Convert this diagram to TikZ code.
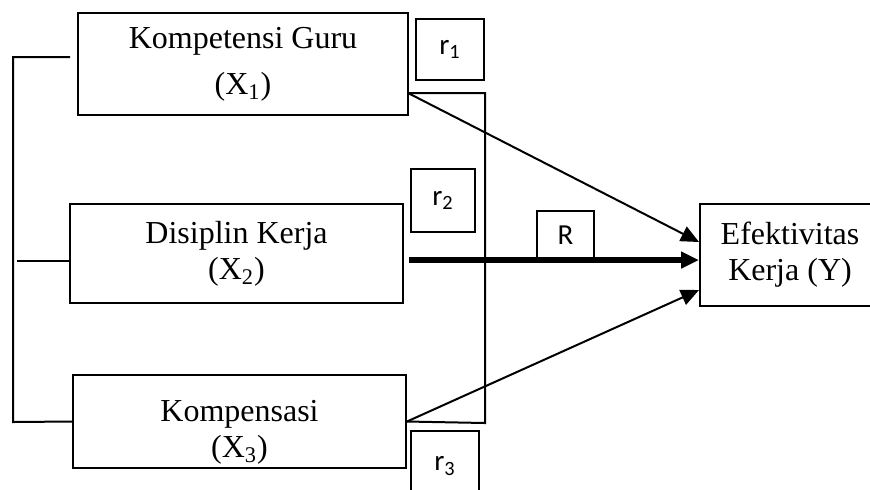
\documentclass[tikz,border=0pt]{standalone}
\usepackage{fontspec}
\setmainfont{Liberation Serif}
\newfontfamily\calibri{Carlito}
\usetikzlibrary{arrows.meta}
\begin{document}
\begin{tikzpicture}[x=0.5pt, y=-0.5pt, line width=1pt,
    var/.style={draw, rectangle, align=center, inner sep=0pt, font=\fontsize{16}{18}\selectfont},
    coef/.style={draw, rectangle, inner sep=0pt, font=\calibri\fontsize{14.5}{16}\selectfont},
    arr/.style={-{Triangle[length=9pt, width=8pt]}}]
\useasboundingbox (0,0) rectangle (870,489);
\node[var, minimum width=165pt, minimum height=51pt] (kg) at (243,64) {Kompetensi Guru\\[5pt](X\textsubscript{1})};
\node[var, minimum width=166.5pt, minimum height=49.5pt] (dk) at (236.5,253.5) {Disiplin Kerja\\(X\textsubscript{2})};
\node[var, minimum width=166.5pt, minimum height=46.5pt] (kp) at (239.5,421.5) {\rule{0pt}{21.5pt}Kompensasi\\(X\textsubscript{3})};
\node[var, minimum width=90pt, minimum height=51pt] (ey) at (790,255) {Efektivitas\\Kerja (Y)};
\node[coef, minimum width=34pt, minimum height=30.5pt] (r1) at (450,49.5) {r\textsubscript{1}};
\node[coef, minimum width=32pt, minimum height=31.5pt] (r2) at (443,200.5) {r\textsubscript{2}};
\node[coef, minimum width=34pt, minimum height=35pt] (r3) at (445,466) {r\textsubscript{3}};
\node[coef, minimum width=28.5pt, minimum height=24.5pt] (rr) at (565.5,235.5) {R};
\coordinate (p1) at (408,93);
\coordinate (p3) at (kp.east);
\coordinate (b1) at (485,93);
\coordinate (b3) at (485,423);
\coordinate (s2) at (409,260);
\coordinate (t1) at (699,242);
\coordinate (t2) at (699,260);
\coordinate (t3) at (699,290);
\coordinate (l1) at (13,57);
\coordinate (l2) at (17,261);
\coordinate (l3) at (13,422);
\draw (p1) -- (b1) -- (b3) -- (p3);
\draw[arr] (p1) -- (t1);
\draw[arr] (p3) -- (t3);
\draw[arr, line width=3pt] (s2) -- (t2);
\draw (70,57) -- (l1) -- (l3) -- (kp.west);
\draw (l2) -- (dk.west |- l2);
\end{tikzpicture}
\end{document}
